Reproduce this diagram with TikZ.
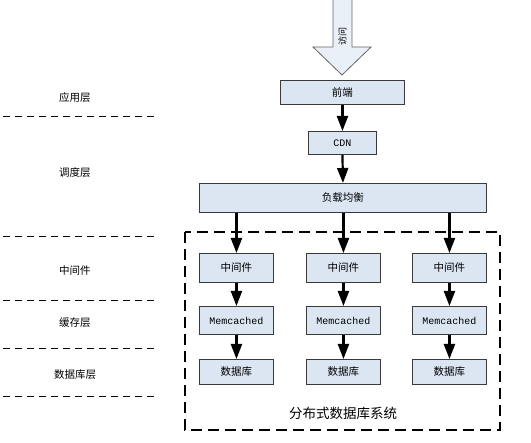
\documentclass[tikz,border=0pt]{standalone}
\usepackage{fontspec}
\setmainfont{Liberation Serif}
\newfontfamily\cjk{Noto Sans CJK SC}
\newfontfamily\latmono{Liberation Mono}
\usetikzlibrary{arrows.meta}
\definecolor{boxfill}{HTML}{DCE6F2}
\definecolor{boxline}{HTML}{3A3A3A}
\tikzset{
  box/.style={draw=boxline, line width=0.9pt, fill=boxfill, inner sep=0pt, anchor=north west},
  cn/.style={font=\cjk\fontsize{10.5}{12}\selectfont},
  lat/.style={font=\latmono\fontsize{10}{12}\selectfont},
  flow/.style={line width=2.2pt, -{Triangle[width=11pt,length=15pt]}},
  layer/.style={line width=0.9pt, dash pattern=on 7pt off 5pt},
  layertxt/.style={font=\cjk\fontsize{10.5}{12}\selectfont},
}
\begin{document}
\begin{tikzpicture}[x=1pt,y=-1pt]
\useasboundingbox (0,0) rectangle (531,443);
% big entry arrow
\draw[draw=gray!80!black, line width=0.8pt, fill=boxfill!60!white]
  (333,-2) -- (352,-2) -- (352,47) -- (371,47) -- (342,75) -- (313,47) -- (333,47) -- cycle;
\node[rotate=90, font=\cjk\fontsize{9}{10}\selectfont, inner sep=0pt] (visit) at (342.5,37) {访问};
% top boxes
\node[box, minimum width=124pt, minimum height=24pt] (fe) at (280,80) {};
\node[cn] at (fe.center) {前端};
\node[box, minimum width=68pt, minimum height=23pt] (cdn) at (308,131) {};
\node[lat] at (cdn.center) {CDN};
\node[box, minimum width=287pt, minimum height=29pt] (lb) at (199,183) {};
\node[cn] at (lb.center) {负载均衡};
\draw[flow] (fe.south) -- (cdn.north);
\draw[flow] (cdn.south) -- (lb.north);
% dashed system box
\draw[line width=2pt, dash pattern=on 11pt off 6pt] (185,232) rectangle (500,430);
\node[font=\cjk\fontsize{13.5}{15}\selectfont] (sys) at (343,413) {分布式数据库系统};
% columns
\foreach \i/\x in {1/199,2/306,3/412}{
  \node[box, minimum width=74pt, minimum height=29pt] (mw\i) at (\x,253) {};
  \node[cn] at (mw\i.center) {中间件};
  \node[box, minimum width=74pt, minimum height=28pt] (mc\i) at (\x,306) {};
  \node[lat] at (mc\i.center) {Memcached};
  \node[box, minimum width=74pt, minimum height=25pt] (db\i) at (\x,359) {};
  \node[cn] at (db\i.center) {数据库};
  \draw[flow] (mw\i.south) -- (mc\i.north);
  \draw[flow] (mc\i.south) -- (db\i.north);
}
\draw[flow] (lb.south -| mw1.north) -- (mw1.north);
\draw[flow] (lb.south -| mw2.north) -- (mw2.north);
\draw[flow] (lb.south -| mw3.north) -- (mw3.north);
% layer labels
\node[layertxt] (l1) at (75,98) {应用层};
\node[layertxt] (l2) at (75,173) {调度层};
\node[layertxt] (l3) at (75,271) {中间件};
\node[layertxt] (l4) at (75,323) {缓存层};
\node[layertxt] (l5) at (75,375) {数据库层};
\foreach \y in {116,236,300,348,396}{
  \draw[layer] (3,\y) -- (158,\y);
}
\end{tikzpicture}
\end{document}
